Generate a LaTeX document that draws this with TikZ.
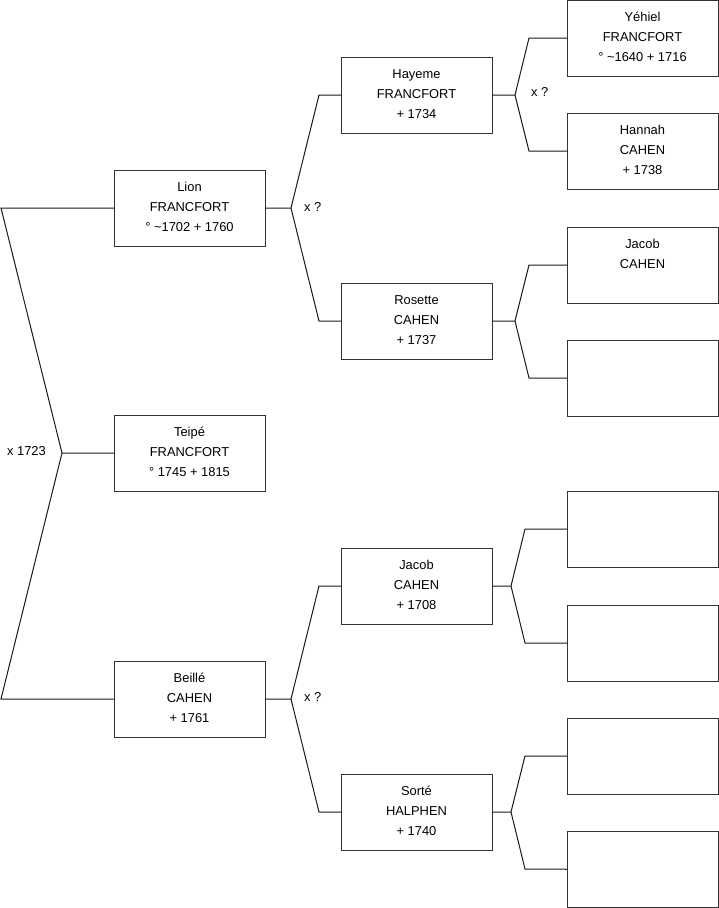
\documentclass[tikz,border=0pt]{standalone}
\usepackage{fontspec}
\setmainfont{Liberation Sans}
\definecolor{boxline}{HTML}{333333}
\definecolor{wireline}{HTML}{1A1A1A}
\newcommand{\pcontent}[1]{\parbox[c][76bp][t]{151bp}{\centering\fontsize{12.9bp}{20bp}\selectfont\rule{0pt}{21.5bp}#1}}
\tikzset{
  pbox/.style={draw=boxline, line width=1bp, inner sep=0pt, outer sep=0pt,
    anchor=north west, minimum width=151bp, minimum height=76bp},
  wire/.style={draw=wireline, line width=1bp, line join=miter},
  lbl/.style={inner sep=0pt, font=\fontsize{12.9bp}{15bp}\selectfont}
}
\begin{document}
\begin{tikzpicture}[x=1bp,y=-1bp]
\useasboundingbox[fill=white] (0,0) rectangle (719,908);
% generation 1
\node[pbox] (teipe) at (114,415) {\pcontent{Teipé\\FRANCFORT\\° 1745 + 1815}};
% generation 2
\node[pbox] (lion) at (114,170) {\pcontent{Lion\\FRANCFORT\\° \textasciitilde1702 + 1760}};
\node[pbox] (beille) at (114,661) {\pcontent{Beillé\\CAHEN\\+ 1761}};
% generation 3
\node[pbox] (hayeme) at (341,57) {\pcontent{Hayeme\\FRANCFORT\\+ 1734}};
\node[pbox] (rosette) at (341,283) {\pcontent{Rosette\\CAHEN\\+ 1737}};
\node[pbox] (jacobA) at (341,548) {\pcontent{Jacob\\CAHEN\\+ 1708}};
\node[pbox] (sorte) at (341,774) {\pcontent{Sorté\\HALPHEN\\+ 1740}};
% generation 4
\node[pbox, minimum height=75.5bp] (yehiel) at (567,0.5) {\parbox[c][75.5bp][t]{151bp}{\centering\fontsize{12.9bp}{20bp}\selectfont\rule{0pt}{21bp}Yéhiel\\FRANCFORT\\° \textasciitilde1640 + 1716}};
\node[pbox] (hannah) at (567,113) {\pcontent{Hannah\\CAHEN\\+ 1738}};
\node[pbox] (jacobB) at (567,227) {\pcontent{Jacob\\CAHEN}};
\node[pbox] (e1) at (567,340) {};
\node[pbox] (e2) at (567,491) {};
\node[pbox] (e3) at (567,605) {};
\node[pbox] (e4) at (567,718) {};
\node[pbox, minimum height=75.5bp] (e5) at (567,831.5) {};
% junction points
\coordinate (j0) at (62,453);
\coordinate (c0a) at (1,208);
\coordinate (c0b) at (1,699);
\coordinate (j1) at (291,208);
\coordinate (c1a) at (319,95);
\coordinate (c1b) at (319,321);
\coordinate (j2) at (291,699);
\coordinate (c2a) at (319,586);
\coordinate (c2b) at (319,812);
\coordinate (j3) at (515,95);
\coordinate (c3a) at (529,38);
\coordinate (c3b) at (529,151);
\coordinate (j4) at (515,321);
\coordinate (c4a) at (529,265);
\coordinate (c4b) at (529,378);
\coordinate (j5) at (511,586);
\coordinate (c5a) at (525,529);
\coordinate (c5b) at (525,643);
\coordinate (j6) at (511,812);
\coordinate (c6a) at (525,756);
\coordinate (c6b) at (525,869);
% connectors
\draw[wire] (teipe.west) -- (j0);
\draw[wire] (lion.west) -- (c0a) -- (j0) -- (c0b) -- (beille.west);
\draw[wire] (lion.east) -- (j1);
\draw[wire] (hayeme.west) -- (c1a) -- (j1) -- (c1b) -- (rosette.west);
\draw[wire] (beille.east) -- (j2);
\draw[wire] (jacobA.west) -- (c2a) -- (j2) -- (c2b) -- (sorte.west);
\draw[wire] (hayeme.east) -- (j3);
\draw[wire] (yehiel.west |- c3a) -- (c3a) -- (j3) -- (c3b) -- (hannah.west);
\draw[wire] (rosette.east) -- (j4);
\draw[wire] (jacobB.west) -- (c4a) -- (j4) -- (c4b) -- (e1.west);
\draw[wire] (jacobA.east) -- (j5);
\draw[wire] (e2.west) -- (c5a) -- (j5) -- (c5b) -- (e3.west);
\draw[wire] (sorte.east) -- (j6);
\draw[wire] (e4.west) -- (c6a) -- (j6) -- (c6b) -- (e5.west);
% marriage labels
\node[lbl, anchor=east] (m0) at (46,451) {x 1723};
\node[lbl, anchor=west] (m1) at (304,207) {x ?};
\node[lbl, anchor=west] (m2) at (304,697) {x ?};
\node[lbl, anchor=west] (m3) at (531,92) {x ?};
\end{tikzpicture}
\end{document}
